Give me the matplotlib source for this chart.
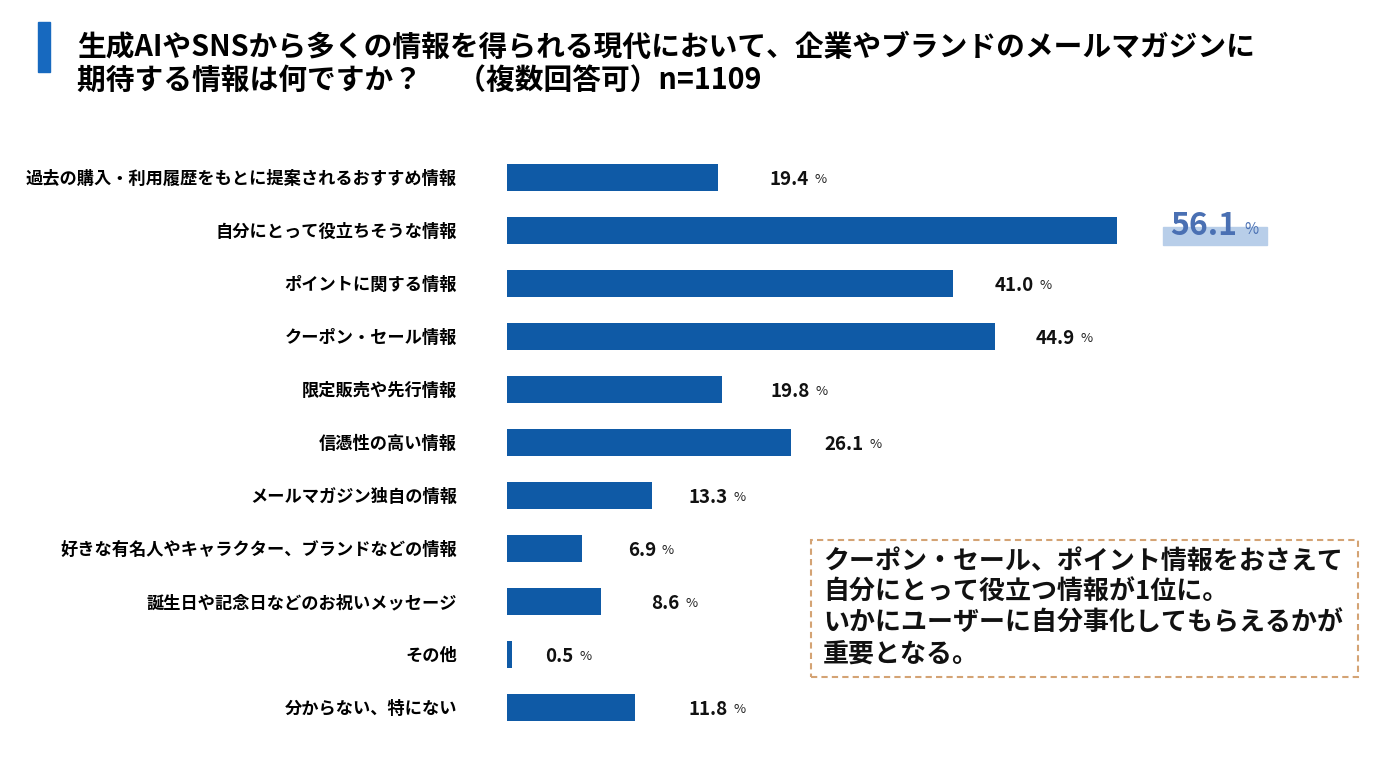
import matplotlib
matplotlib.use('Agg')
import matplotlib.pyplot as plt
from matplotlib.patches import Rectangle

plt.rcParams['font.family'] = ['Noto Sans CJK JP', 'DejaVu Sans']

# data
categories = ['過去の購入・利用履歴をもとに提案されるおすすめ情報',
              '自分にとって役立ちそうな情報',
              'ポイントに関する情報',
              'クーポン・セール情報',
              '限定販売や先行情報',
              '信憑性の高い情報',
              'メールマガジン独自の情報',
              '好きな有名人やキャラクター、ブランドなどの情報',
              '誕生日や記念日などのお祝いメッセージ',
              'その他',
              '分からない、特にない']
values = [19.4, 56.1, 41.0, 44.9, 19.8, 26.1, 13.3, 6.9, 8.6, 0.5, 11.8]
top_idx = 1

title_lines = ['生成AIやSNSから多くの情報を得られる現代において、企業やブランドのメールマガジンに',
               '期待する情報は何ですか？　 （複数回答可）n=1109']
note_lines = ['クーポン・セール、ポイント情報をおさえて',
              '自分にとって役立つ情報が1位に。',
              'いかにユーザーに自分事化してもらえるかが',
              '重要となる。']

# layout (pixels)
W, H = 1379, 773
label_gap = [52, 53, 42, 40, 48, 34, 37, 46, 51, 33, 53]   # px from bar end to value label
bar_col = '#0F5AA6'

def fx(px): return px / W
def fy(py): return 1 - py / H

fig = plt.figure(figsize=(W/100, H/100), dpi=100)
fig.patch.set_facecolor('white')

# title
fig.patches.append(Rectangle((fx(38), fy(72)), fx(12), (72-22)/H, transform=fig.transFigure,
                             color='#1769BF'))
fig.text(fx(77), fy(47), title_lines[0], fontsize=20.7, fontweight='bold', va='center')
fig.text(fx(77), fy(80), title_lines[1], fontsize=20.7, fontweight='bold', va='center')

# bars
top_px, bot_px, left_px = 150, 734, 507
ax = fig.add_axes([fx(left_px), fy(bot_px), 1 - fx(left_px), (bot_px-top_px)/H])
pxu = (1117 - 507) / 56.1   # px per percent
ax.set_xlim(0, (W - left_px) / pxu)
ax.set_ylim((bot_px-177)/53, (top_px-177)/53)
ypos = list(range(len(values)))
ax.barh(ypos, values, height=27/53, color=bar_col)
ax.set_yticks(ypos)
ax.set_yticklabels(categories, fontsize=12.4, fontweight='bold')
ax.tick_params(axis='y', length=0, pad=36)
ax.set_xticks([])
for s in ax.spines.values():
    s.set_visible(False)

for i, v in enumerate(values):
    if i == top_idx:
        ax.add_patch(Rectangle((v + 46/pxu, i - 3/53), 104/pxu, 18/53,
                               color='#B8CEE9', zorder=1))
        t = ax.annotate(f'{v:.1f}', xy=(v, i), xytext=(label_gap[i]*0.72, 3),
                        textcoords='offset points', fontsize=23, fontweight='bold',
                        color='#4A70B3', va='center', zorder=2)
        ax.annotate('%', xy=(1, 0.12), xycoords=t, xytext=(5, 0), textcoords='offset points',
                    fontsize=11, color='#4A70B3', va='bottom', zorder=2)
    else:
        t = ax.annotate(f'{v:.1f}', xy=(v, i), xytext=(label_gap[i]*0.72, -1.5),
                        textcoords='offset points', fontsize=13.5, fontweight='bold',
                        color='#111111', va='center')
        ax.annotate('%', xy=(1, 0.12), xycoords=t, xytext=(4, 0), textcoords='offset points',
                    fontsize=9.5, color='#222222', va='bottom')

# note box
box = Rectangle((fx(811), fy(677)), fx(1358-811), (677-540)/H, transform=fig.transFigure,
                facecolor='white', edgecolor='#D4A374', linewidth=1.5, linestyle=(0, (3, 2)))
fig.patches.append(box)
for k, line in enumerate(note_lines):
    fig.text(fx(823), fy(561 + 31*k), line, fontsize=18.7, fontweight='bold', va='center',
             color='#111111')

fig.savefig('out.png', dpi=100, facecolor='white')
